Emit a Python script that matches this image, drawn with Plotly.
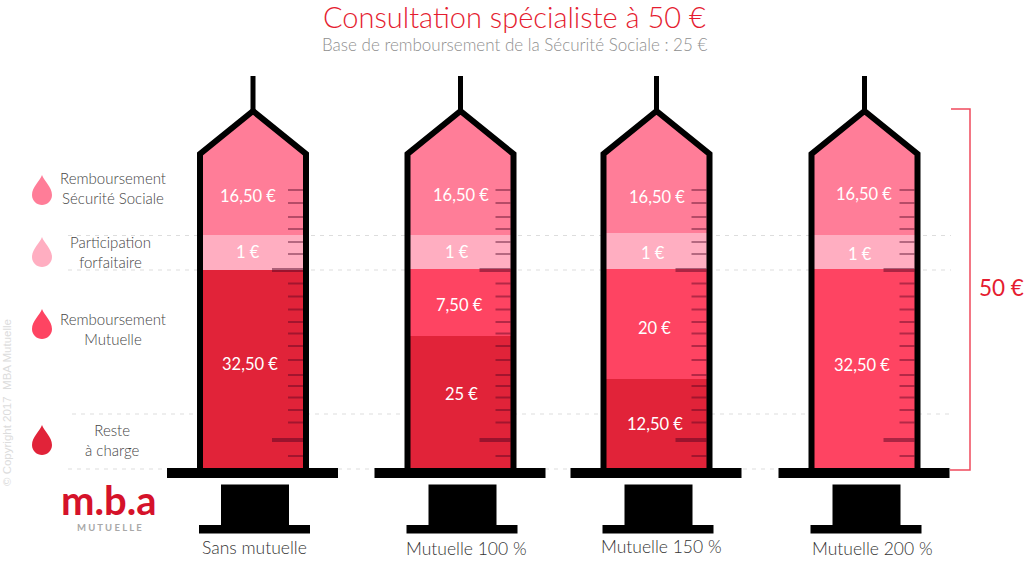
import plotly.graph_objects as go

categories = ['Sans mutuelle', 'Mutuelle 100 %', 'Mutuelle 150 %', 'Mutuelle 200 %']

# level of each layer as read on the syringe (the drawing is not strictly to scale)
reste_level = [27.5, 18.4, 12.4, 0]
mutuelle_level = [0, 9.2, 15.3, 27.6]
forfait_level = [4.9, 4.8, 4.9, 4.8]
secu_level = [17.5, 17.5, 17.3, 17.5]

reste_labels = ['32,50 €', '25 €', '12,50 €', '']
mutuelle_labels = ['', '7,50 €', '20 €', '32,50 €']
forfait_labels = ['1 €', '1 €', '1 €', '1 €']
secu_labels = ['16,50 €', '16,50 €', '16,50 €', '16,50 €']

legend_labels = ['Remboursement<br>Sécurité Sociale', 'Participation<br>forfaitaire',
                 'Remboursement<br>Mutuelle', 'Reste<br>à charge']

COL_SECU = '#ff7d98'
COL_FORFAIT = '#ffaec1'
COL_MUTUELLE = '#fe4462'
COL_RESTE = '#e12339'
RED = '#e51c30'
FONT = 'Lato, sans-serif'

WIDTH, HEIGHT = 1024, 567
BASE_PX = 468
PX_PER_UNIT = 7.2
centers = [253, 460.5, 656.5, 864.5]


def py(p):
    # pixel row to paper fraction
    return 1 - p / HEIGHT


def rect(x0, x1, y0, y1, color, layer='above'):
    return dict(type='rect', xref='x', yref='paper', x0=x0, x1=x1, y0=py(y0), y1=py(y1),
                fillcolor=color, line_width=0, layer=layer)


def path(d_points, color=None, line=None, width=0, closed=False):
    d = 'M ' + ' L '.join(f'{x} {py(y):.5f}' for x, y in d_points) + (' Z' if closed else '')
    return dict(type='path', xref='x', yref='paper', path=d, fillcolor=color,
                line=dict(color=line, width=width), layer='above')


def drop(cx, t, color):
    pts = [(cx, t), (cx - 2, t + 6), (cx - 10, t + 12), (cx - 10, t + 20), (cx - 10, t + 26), (cx - 5, t + 30),
           (cx, t + 30), (cx + 5, t + 30), (cx + 10, t + 26), (cx + 10, t + 20), (cx + 10, t + 12), (cx + 2, t + 6), (cx, t)]
    s = [f'{x} {py(y):.5f}' for x, y in pts]
    d = 'M ' + s[0] + ' C ' + ' '.join(s[1:4]) + ' C ' + ' '.join(s[4:7]) + ' C ' + ' '.join(s[7:10]) + ' C ' + ' '.join(s[10:13]) + ' Z'
    return dict(type='path', xref='x', yref='paper', path=d, fillcolor=color, line_width=0, layer='above')


fig = go.Figure()
for values, color, name in [(reste_level, COL_RESTE, 'Reste à charge'),
                            (mutuelle_level, COL_MUTUELLE, 'Remboursement Mutuelle'),
                            (forfait_level, COL_FORFAIT, 'Participation forfaitaire'),
                            (secu_level, COL_SECU, 'Remboursement Sécurité Sociale')]:
    # slightly wider than the inside of the syringe so the edges stay under the frame
    fig.add_trace(go.Bar(x=centers, y=values, width=103, name=name, marker=dict(color=color, line_width=0),
                         customdata=categories, hovertemplate='%{customdata}<extra>' + name + '</extra>'))

shapes = []

# dashed guides behind the syringes
for p, x0 in [(235.5, 68), (270, 68), (414, 72), (469, 68)]:
    shapes.append(dict(type='line', xref='x', yref='paper', x0=x0, x1=951, y0=py(p), y1=py(p),
                       line=dict(color='#dddddd', width=1, dash='4px,5px'), layer='below'))

tick_rows = [190, 203, 217, 229, 242, 254, 283.5, 296.5, 309.5, 322, 333.5, 346, 360, 375, 386, 397.5, 410, 422.5, 456]
big_tick_rows = [270, 440]

for cx in centers:
    # cut the top of the bars into the syringe point
    shapes.append(path([(cx - 54, 104), (cx - 54, 155), (cx, 112), (cx, 104)], color='white', closed=True))
    shapes.append(path([(cx + 54, 104), (cx + 54, 155), (cx, 112), (cx, 104)], color='white', closed=True))
    for p in tick_rows:
        shapes.append(rect(cx + 35, cx + 50, p - 1, p + 1, 'rgba(70,0,30,0.4)'))
    for p in big_tick_rows:
        shapes.append(rect(cx + 19, cx + 50, p - 2, p + 2, 'rgba(70,0,30,0.45)'))
    # body, needle, flange, plunger
    shapes.append(path([(cx - 53, 470), (cx - 53, 154), (cx, 111), (cx + 53, 154), (cx + 53, 470)], line='black', width=6))
    shapes.append(rect(cx - 2.5, cx + 2.5, 76, 111, 'black'))
    shapes.append(rect(cx - 86, cx + 85, 468, 478, 'black'))
    shapes.append(rect(cx - 32, cx + 36, 484.5, 526, 'black'))
    shapes.append(rect(cx - 54, cx + 57, 525, 533.5, 'black'))

# 50 € bracket
shapes.append(path([(951, 109), (970, 109), (970, 470), (950, 470)], line='#ef4a5c', width=1.5))

# legend drops
for top, color in zip([175, 237, 309, 425], [COL_SECU, COL_FORFAIT, COL_MUTUELLE, COL_RESTE]):
    shapes.append(drop(42, top, color))

annotations = []


def note(text, x, p, size, color, font=FONT, weight=300, **kw):
    annotations.append(dict(text=text, x=x, y=py(p), xref='x', yref='paper', showarrow=False, xanchor='center',
                            yanchor='middle', font=dict(family=font, size=size, color=color, weight=weight), **kw))


note('Consultation spécialiste à 50 €', 514, 17, 29, RED)
note('Base de remboursement de la Sécurité Sociale : 25 €', 514, 45, 17, '#8f8f8f')
note('50 €', 1001, 287, 22.5, RED, weight=400)
note('© Copyright 2017  MBA Mutuelle', 7, 403, 11.5, '#dcdcdc', font='Liberation Sans, sans-serif', weight=400, textangle=-90)

for label, x, p in zip(legend_labels, [113, 110, 113, 112], [188, 252, 329, 440]):
    note(label, x, p, 15, '#444444')

for label, x, p in zip(categories, [254, 466, 661, 872], [547, 548, 546, 548]):
    note(label, x, p, 17.5, '#333333')

# labels in the syringes
for labels, xs, rows in [(secu_labels, [248, 461, 657, 864], [196, 195, 197, 194]),
                         (forfait_labels, [248, 457, 653, 860], [252, 252, 253, 254]),
                         (mutuelle_labels, [0, 459, 654.5, 862], [0, 305, 328, 365]),
                         (reste_labels, [250, 461, 655, 0], [364, 394, 424, 0])]:
    for label, x, p in zip(labels, xs, rows):
        if label:
            note(label, x, p, 16.5, 'white', weight=400)

# logo
note('<b>m.b.a</b>', 109, 500, 40, '#d5122a', weight=700)
note('M U T U E L L E', 109, 527, 9.5, '#a8a8a8', weight=700)

fig.update_layout(
    width=WIDTH, height=HEIGHT, margin=dict(l=0, r=0, t=0, b=0),
    barmode='stack', showlegend=False,
    paper_bgcolor='white', plot_bgcolor='rgba(0,0,0,0)',
    xaxis=dict(range=[0, WIDTH], visible=False, fixedrange=True),
    yaxis=dict(range=[(BASE_PX - HEIGHT) / PX_PER_UNIT, BASE_PX / PX_PER_UNIT], visible=False, fixedrange=True),
    shapes=shapes, annotations=annotations,
)

# the page's default body margin would shift the figure by 8px
fig.write_html("out.html", config=dict(displayModeBar=False), post_script="document.body.style.margin = '0';")
